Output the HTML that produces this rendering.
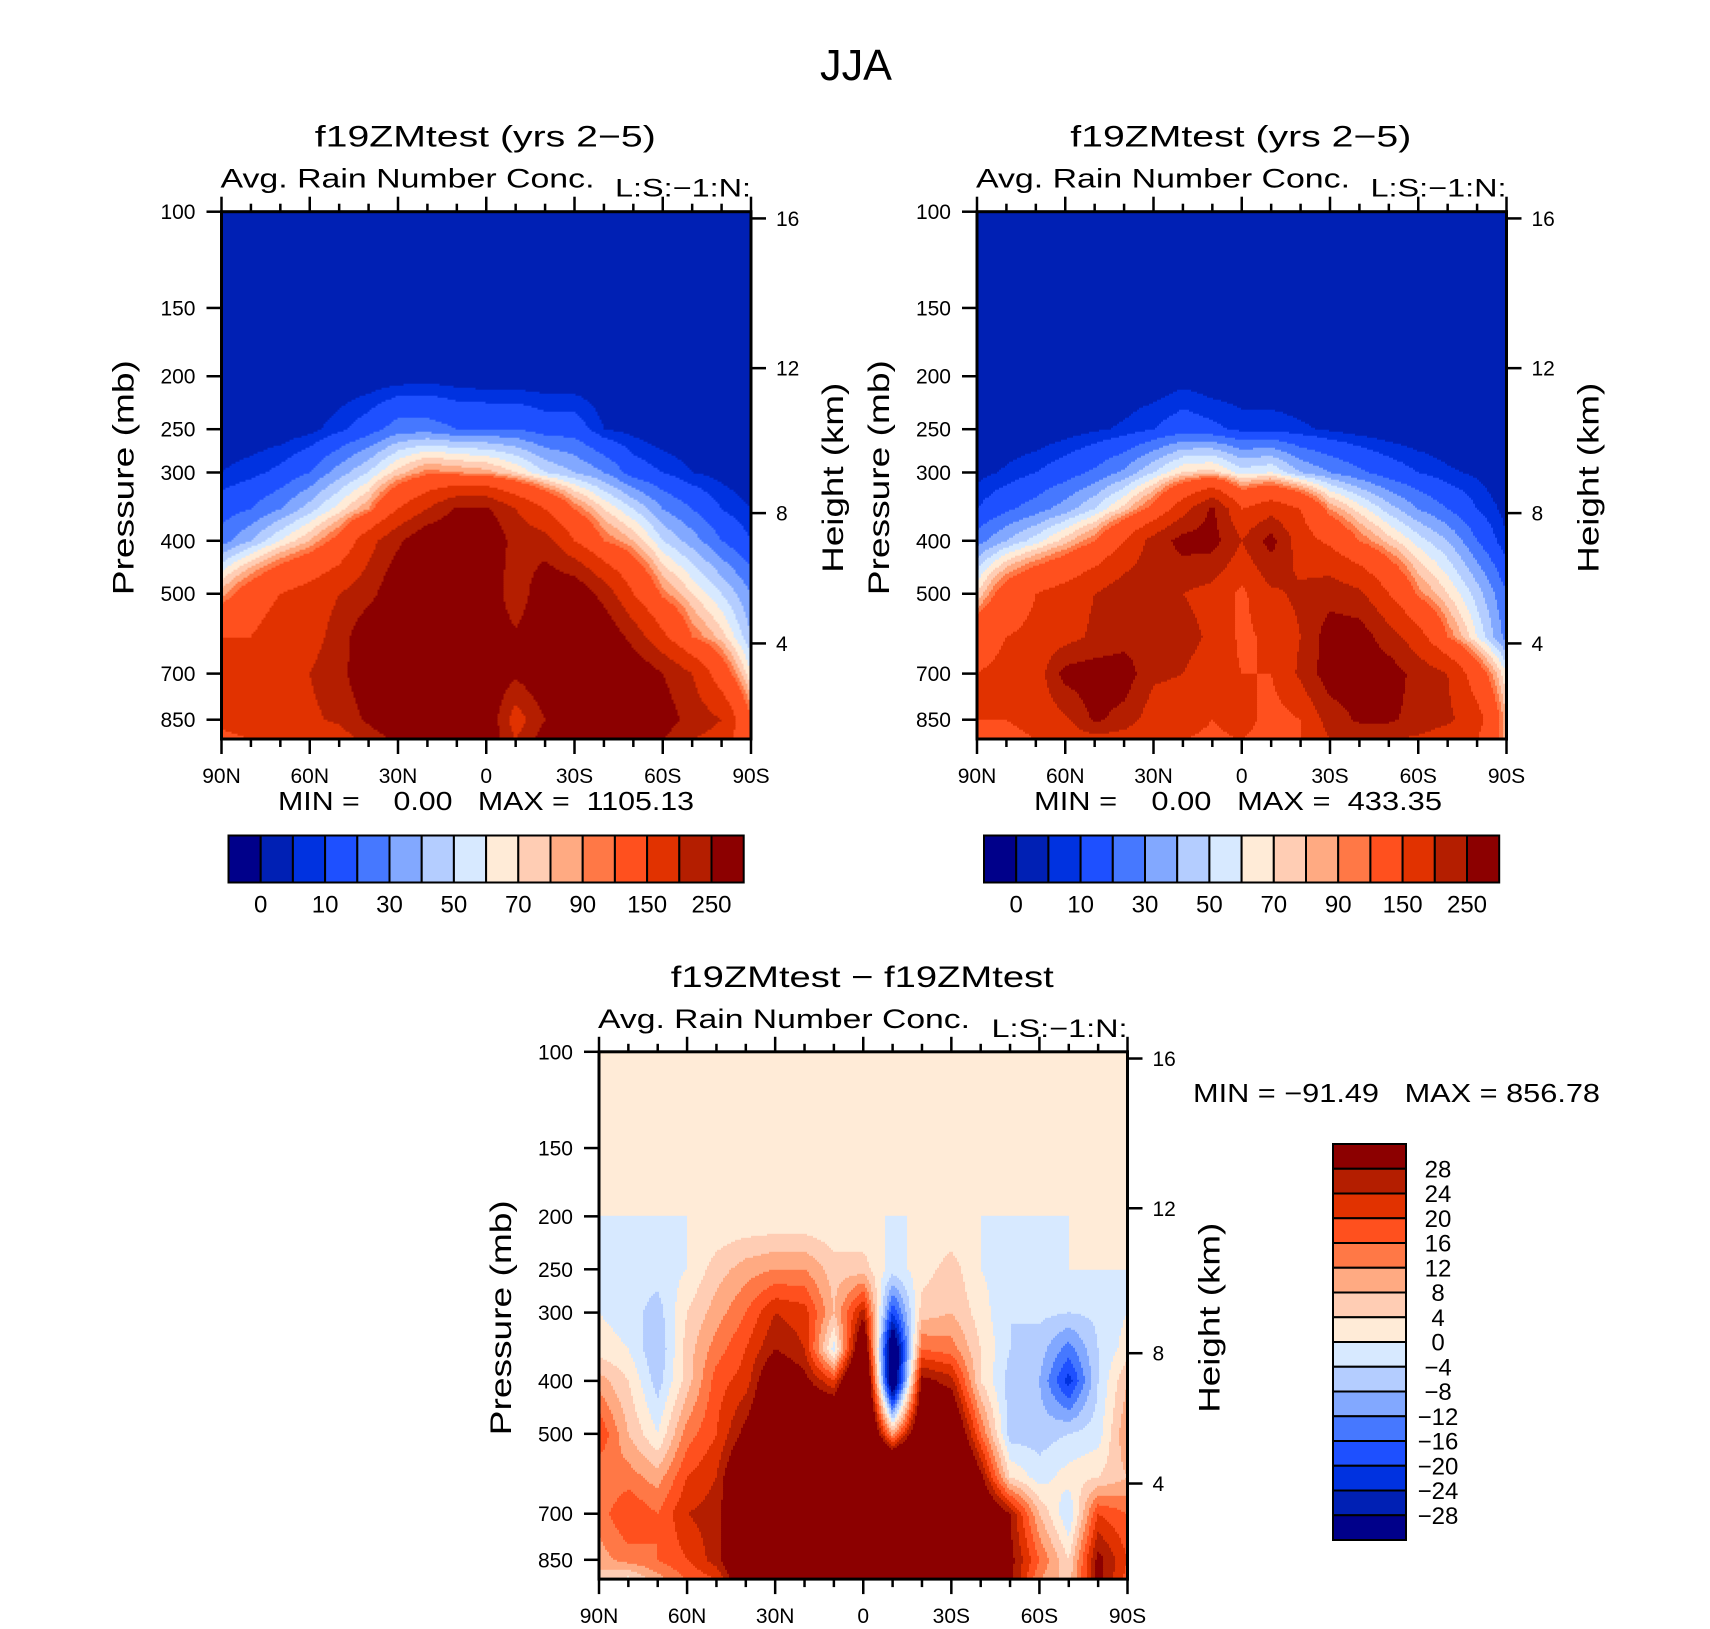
<!DOCTYPE html>
<html><head><meta charset="utf-8"><title>JJA Avg. Rain Number Conc.</title>
<style>
html,body{margin:0;padding:0;background:#fff;}
svg{display:block;font-family:"Liberation Sans",sans-serif;}
</style></head>
<body>
<svg id="fig" width="1710" height="1629" viewBox="0 0 1710 1629" xmlns="http://www.w3.org/2000/svg">
<rect width="1710" height="1629" fill="#fff"/>
<text x="856" y="80" font-size="44" text-anchor="middle" textLength="72" lengthAdjust="spacingAndGlyphs">JJA</text>
<g id="layer"></g>
</svg>
<script>
// ---- data ----
const lats = [90,80,70,60,50,40,30,20,10,0,-10,-20,-30,-40,-50,-60,-70,-80,-90];
const pressures = [100,150,200,250,300,350,400,500,600,700,850,925];
const absLevels = [0,5,10,20,30,40,50,60,70,80,90,100,150,200,250];
const absLabels = ["0","10","30","50","70","90","150","250"];
const diffLevels = [-28,-24,-20,-16,-12,-8,-4,0,4,8,12,16,20,24,28];
const diffLabels = ["28","24","20","16","12","8","4","0","\u22124","\u22128","\u221212","\u221216","\u221220","\u221224","\u221228"];
const palette = ["#00008A","#0020B4","#0032E0","#1E50FF","#4678FF","#82A8FF","#B4CDFF","#D7E9FF","#FFEBD7","#FFCDB4","#FFAA82","#FF7846","#FF501E","#E13200","#B41E00","#8C0000"];
const pTicks = [100,150,200,250,300,400,500,700,850];
const kmTicks = [16,12,8,4];
const latTicks = [90,60,30,0,-30,-60,-90];
const latTickLabels = ["90N","60N","30N","0","30S","60S","90S"];

const panel1Values = [
[0,0,0,0,0,0,0,0,0,0,0,0,0,0,0,0,0,0,0],
[0,0,0,0,0,0,0,0,0,0,0,0,0,0,0,0,0,0,0],
[0,0,0,0,0,0,1,2,1,0,0,0,0,0,0,0,0,0,0],
[0,0,1,3,8,15,25,25,20,20,20,15,15,5,3,0,0,0,0],
[5,8,12,20,35,50,75,95,90,85,70,50,40,30,15,10,5,3,0],
[15,20,30,45,65,90,150,200,260,260,200,150,100,70,50,30,20,10,5],
[25,40,60,80,110,180,240,300,300,300,230,220,150,100,80,50,35,20,10],
[85,120,150,170,200,230,300,300,300,300,210,300,300,230,150,95,70,50,30],
[150,150,180,180,220,300,300,300,300,300,260,300,300,300,230,160,100,75,40],
[170,170,190,200,230,300,300,300,300,300,260,300,300,300,300,250,200,120,60],
[170,180,180,190,210,260,300,300,300,300,170,250,300,300,300,280,230,200,100],
[130,150,160,160,170,220,260,300,300,300,200,280,300,300,300,250,200,180,100]];

const panel2Values = [
[0,0,0,0,0,0,0,0,0,0,0,0,0,0,0,0,0,0,0],
[0,0,0,0,0,0,0,0,0,0,0,0,0,0,0,0,0,0,0],
[0,0,0,0,0,0,0,2,0,0,0,0,0,0,0,0,0,0,0],
[0,0,0,2,4,6,10,15,12,8,8,6,4,2,1,0,0,0,0],
[3,6,10,15,22,32,50,70,75,55,60,40,30,22,15,10,6,4,0],
[10,18,25,35,50,75,110,180,260,150,180,150,90,65,45,30,20,10,3],
[25,40,55,75,100,150,220,270,270,200,270,170,140,100,75,55,40,20,5],
[70,120,150,170,200,230,230,200,180,140,190,210,230,210,150,95,70,45,20],
[130,150,160,180,210,230,230,220,190,140,160,200,280,280,220,170,100,60,25],
[150,160,170,270,280,280,210,200,170,150,150,210,280,280,280,230,200,120,60],
[150,150,160,190,260,230,170,170,150,170,130,150,220,260,260,230,210,170,80],
[140,140,150,160,180,170,150,150,140,150,130,150,200,200,200,190,170,150,80]];

const diffValues = [
[0,0,0,0,0,0,0,0,0,0,0,0,0,0,0,0,0,0,0],
[0,0,0,0,0,0,0,0,0,0,0,0,0,0,0,0,0,0,0],
[0,0,0,0,0,0,0,0,0,0,0,0,0,0,0,0,0,0,0],
[0,-2,-2,0,6,10,12,12,6,6,-2,2,6,0,-2,-2,0,0,0],
[0,-2,-6,4,10,16,24,22,8,26,-20,6,8,2,-4,-3,-4,-3,0],
[2,0,-8,6,14,20,28,24,-2,40,-40,16,14,4,-4,-6,-14,-4,2],
[10,4,-6,6,18,22,36,30,20,50,-40,30,26,4,-6,-8,-22,-4,8],
[20,8,0,14,20,30,40,40,50,50,10,40,40,16,-6,-6,-4,-2,12],
[12,14,10,20,24,40,50,50,50,60,60,60,50,30,4,-2,2,4,8],
[14,20,16,24,26,40,50,50,50,60,50,50,50,40,28,8,-4,20,16],
[10,14,16,20,26,40,60,60,60,60,60,60,50,40,30,16,4,30,20],
[6,2,10,16,20,36,50,50,50,50,50,50,50,50,30,12,6,30,18]];

// ---- layout ----
const NS = "http://www.w3.org/2000/svg";
const layer = document.getElementById('layer');
const P_BOTTOM = 922;
function mk(tag, attrs, parent){
  const e = document.createElementNS(NS, tag);
  for (const k in attrs) e.setAttribute(k, attrs[k]);
  (parent||layer).appendChild(e);
  return e;
}
function kmToP(z){
  const m = z*1000;
  if (m <= 11000) return 1013.25*Math.pow(1-2.25577e-5*m, 5.25588);
  return 226.32*Math.exp(-(m-11000)/6341.6);
}
function classify(v, levels){
  let i = 0;
  while (i < levels.length && v >= levels[i]) i++;
  return i;
}
function sample(values, li, pr){
  const i0 = Math.max(0, Math.min(lats.length-2, Math.floor(li)));
  const j0 = Math.max(0, Math.min(pressures.length-2, Math.floor(pr)));
  const fx = Math.min(1, Math.max(0, li - i0)), fy = Math.min(1, Math.max(0, pr - j0));
  const a = values[j0][i0], b = values[j0][i0+1], c = values[j0+1][i0], d = values[j0+1][i0+1];
  return (a*(1-fx)+b*fx)*(1-fy) + (c*(1-fx)+d*fx)*fy;
}

function drawPanel(cfg){
  const {x0,y0,w,h,values,levels,title,name} = cfg;
  const g = mk('g', {});
  
  
  const xOf = lat => x0 + (90-lat)/180*w;
  const yOf = p => y0 + h*Math.log10(p/100)/Math.log10(P_BOTTOM/100);
  const latOfX = x => 90 - (x-x0)/w*180;
  const pOfY = y => 100*Math.pow(P_BOTTOM/100, (y-y0)/h);
  function rowOf(p){
    const lp = Math.log10(p);
    for (let j=0;j<pressures.length-1;j++){
      const a=Math.log10(pressures[j]), b=Math.log10(pressures[j+1]);
      if (lp<=b) return j + (lp-a)/(b-a);
    }
    return pressures.length-1;
  }
  const field = mk('g', {}, g);
  
  
  const step = 2;
  const nx = Math.ceil(w/step), ny = Math.ceil(h/step);
  function emit(xs, xe, y, hh, cls){
    const r = mk('rect', {x:xs.toFixed(1), y:y.toFixed(1), width:(xe-xs+0.6).toFixed(1), height:(hh+0.6).toFixed(1), fill:palette[cls]}, field);
    
    
  }
  for (let j=0; j<ny; j++){
    const y = y0 + j*step;
    const hh = Math.min(step, y0+h-y);
    const pr = rowOf(pOfY(y+hh/2));
    let runStart = x0, runCls = -1;
    for (let i=0; i<nx; i++){
      const x = x0 + i*step;
      const li = (90 - latOfX(Math.min(x+step/2, x0+w)))/10;
      const cls = classify(sample(values, li, pr), levels);
      if (cls !== runCls){
        if (runCls >= 0) emit(runStart, x, y, hh, runCls);
        runStart = x; runCls = cls;
      }
    }
    emit(runStart, x0+w, y, hh, runCls);
  }
  const fr = mk('rect', {x:x0, y:y0, width:w, height:h, fill:'none', stroke:'#000', 'stroke-width':3}, g);
  
  
  for (let lat=90; lat>=-90; lat-=10){
    const major = lat % 30 === 0;
    const x = xOf(lat), L = major?15:8;
    const t1 = mk('line', {x1:x, x2:x, y1:y0+h, y2:y0+h+L, stroke:'#000','stroke-width':2.5}, g);
    
    
    const t2 = mk('line', {x1:x, x2:x, y1:y0, y2:y0-L, stroke:'#000','stroke-width':2.5}, g);
    
    
  }
  latTicks.forEach((lat,i)=>{
    const t = mk('text', {x:xOf(lat), y:y0+h+44, 'font-size':21, 'text-anchor':'middle'}, g);
    t.textContent = latTickLabels[i];
    
    
  });
  pTicks.forEach(p=>{
    const y = yOf(p);
    const l = mk('line', {x1:x0-15, x2:x0, y1:y, y2:y, stroke:'#000','stroke-width':2.5}, g);
    
    
    const t = mk('text', {x:x0-26, y:y+7.5, 'font-size':21, 'text-anchor':'end'}, g);
    t.textContent = String(p);
    
    
  });
  kmTicks.forEach(z=>{
    const y = yOf(kmToP(z));
    const l = mk('line', {x1:x0+w, x2:x0+w+15, y1:y, y2:y, stroke:'#000','stroke-width':2.5}, g);
    
    
    const t = mk('text', {x:x0+w+25, y:y+7.5, 'font-size':21}, g);
    t.textContent = String(z);
    
    
  });
  const cy = y0 + 266;
  const yt = mk('text', {x:0, y:0, 'font-size':30, 'text-anchor':'middle', transform:`translate(${x0-88},${cy}) rotate(-90)`, textLength:235, lengthAdjust:'spacingAndGlyphs'}, g);
  yt.textContent = 'Pressure (mb)';
  
  
  const ht = mk('text', {x:0, y:0, 'font-size':30, 'text-anchor':'middle', transform:`translate(${x0+w+92},${cy}) rotate(-90)`, textLength:190, lengthAdjust:'spacingAndGlyphs'}, g);
  ht.textContent = 'Height (km)';
  
  
  const tt = mk('text', {x:x0+w/2-1, y:y0-65, 'font-size':30, 'text-anchor':'middle', textLength:cfg.titleW, lengthAdjust:'spacingAndGlyphs'}, g);
  tt.textContent = title;
  
  
  const st = mk('text', {x:x0-1, y:y0-24, 'font-size':27, textLength:cfg.subW, lengthAdjust:'spacingAndGlyphs'}, g);
  st.textContent = 'Avg. Rain Number Conc.';
  
  
  const lt = mk('text', {x:x0+w, y:y0-15, 'font-size':25, 'text-anchor':'end', textLength:136, lengthAdjust:'spacingAndGlyphs'}, g);
  lt.textContent = 'L:S:\u22121:N:';
  
  
}

function hColorbar(x0, y0, name){
  const g = mk('g', {});
  
  
  const bw = 32.2, bh = 47;
  palette.forEach((c,i)=>{
    const r = mk('rect', {x:x0+i*bw, y:y0, width:bw, height:bh, fill:c, stroke:'#000','stroke-width':2}, g);
    
    
  });
  absLabels.forEach((s,k)=>{
    const t = mk('text', {x:x0+(1+2*k)*bw, y:y0+77, 'font-size':24, 'text-anchor':'middle'}, g);
    t.textContent = s;
    
    
  });
}

drawPanel({x0:221.5, y0:211.7, w:529.5, h:527.3, values:panel1Values, levels:absLevels, title:'f19ZMtest (yrs 2\u22125)', titleW:341, subW:374, name:'panel-test-1'});
drawPanel({x0:977, y0:211.7, w:529.5, h:527.3, values:panel2Values, levels:absLevels, title:'f19ZMtest (yrs 2\u22125)', titleW:341, subW:374, name:'panel-test-2'});
drawPanel({x0:599, y0:1051.8, w:528.5, h:527.3, values:diffValues, levels:diffLevels, title:'f19ZMtest \u2212 f19ZMtest', titleW:383, subW:372, name:'panel-difference'});

hColorbar(228.5, 835.5, 'colorbar-test-1');
hColorbar(984, 835.5, 'colorbar-test-2');

(function(){
  const g = mk('g', {});
  
  
  const x0 = 1333, y0 = 1144, bw = 73, bh = 24.75;
  for (let i=0;i<16;i++){
    const r = mk('rect', {x:x0, y:y0+i*bh, width:bw, height:bh, fill:palette[15-i], stroke:'#000','stroke-width':2}, g);
    
    
  }
  diffLabels.forEach((s,k)=>{
    const t = mk('text', {x:1438, y:y0+(k+1)*bh+8.5, 'font-size':24, 'text-anchor':'middle'}, g);
    t.textContent = s;
    
    
  });
})();

function mmText(x, y, w, s, name){
  const t = mk('text', {x:x, y:y, 'font-size':26, textLength:w, lengthAdjust:'spacingAndGlyphs'});
  t.style.whiteSpace = 'pre';
  t.textContent = s;
  
  
}
mmText(278, 810, 416, 'MIN =    0.00   MAX =  1105.13', 'min-max-test-1');
mmText(1034, 810, 408, 'MIN =    0.00   MAX =  433.35', 'min-max-test-2');
mmText(1193, 1102, 407, 'MIN = \u221291.49   MAX = 856.78', 'min-max-difference');
</script>
</body></html>
